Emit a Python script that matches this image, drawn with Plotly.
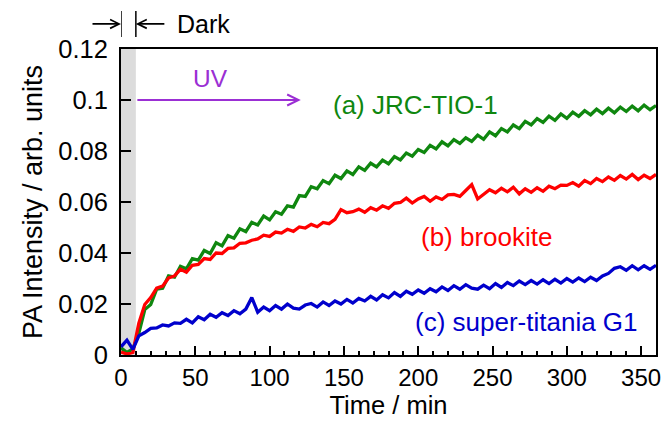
import plotly.graph_objects as go

time_min = [0, 4, 8, 12, 16, 20, 24, 28, 32, 36, 40, 44, 48, 52, 56, 60, 64, 68, 72, 76,
            80, 84, 88, 92, 96, 100, 104, 108, 112, 116, 120, 124, 128, 132, 136, 140, 144, 148, 152, 156,
            160, 164, 168, 172, 176, 180, 184, 188, 192, 196, 200, 204, 208, 212, 216, 220, 224, 228, 232, 236,
            240, 244, 248, 252, 256, 260, 264, 268, 272, 276, 280, 284, 288, 292, 296, 300, 304, 308, 312, 316,
            320, 324, 328, 332, 336, 340, 344, 348, 352, 356, 360]

jrc_tio1 = [0.0028, 0.0010, 0.0024, 0.0085, 0.0178, 0.0198, 0.0258, 0.0262, 0.0310, 0.0305,
            0.0348, 0.0338, 0.0378, 0.0372, 0.0410, 0.0398, 0.0440, 0.0428, 0.0468, 0.0458,
            0.0495, 0.0484, 0.0520, 0.0510, 0.0545, 0.0530, 0.0562, 0.0552, 0.0585, 0.0580,
            0.0625, 0.0622, 0.0660, 0.0652, 0.0684, 0.0672, 0.0705, 0.0692, 0.0722, 0.0708,
            0.0738, 0.0724, 0.0752, 0.0738, 0.0764, 0.0750, 0.0778, 0.0765, 0.0792, 0.0780,
            0.0806, 0.0794, 0.0822, 0.0808, 0.0836, 0.0820, 0.0845, 0.0830, 0.0852, 0.0838,
            0.0862, 0.0846, 0.0875, 0.0860, 0.0888, 0.0875, 0.0902, 0.0888, 0.0916, 0.0902,
            0.0927, 0.0912, 0.0937, 0.0920, 0.0945, 0.0928, 0.0952, 0.0936, 0.0958, 0.0942,
            0.0964, 0.0947, 0.0968, 0.0950, 0.0972, 0.0955, 0.0976, 0.0958, 0.0980, 0.0962,
            0.0978]

brookite = [0.0012, 0.0004, 0.0010, 0.0125, 0.0198, 0.0225, 0.0262, 0.0270, 0.0302, 0.0310,
            0.0336, 0.0325, 0.0352, 0.0355, 0.0378, 0.0375, 0.0400, 0.0398, 0.0418, 0.0420,
            0.0438, 0.0440, 0.0450, 0.0455, 0.0470, 0.0465, 0.0482, 0.0478, 0.0493, 0.0485,
            0.0502, 0.0498, 0.0512, 0.0503, 0.0520, 0.0515, 0.0532, 0.0570, 0.0558, 0.0562,
            0.0572, 0.0560, 0.0578, 0.0568, 0.0585, 0.0575, 0.0595, 0.0598, 0.0615, 0.0596,
            0.0612, 0.0622, 0.0603, 0.0620, 0.0610, 0.0628, 0.0630, 0.0622, 0.0645, 0.0668,
            0.0612, 0.0632, 0.0648, 0.0636, 0.0654, 0.0640, 0.0658, 0.0632, 0.0652, 0.0638,
            0.0656, 0.0642, 0.0662, 0.0652, 0.0666, 0.0665, 0.0676, 0.0662, 0.0684, 0.0672,
            0.0692, 0.0680, 0.0698, 0.0685, 0.0704, 0.0690, 0.0708, 0.0688, 0.0705, 0.0692,
            0.0708]

super_titania_g1 = [0.0032, 0.0058, 0.0022, 0.0075, 0.0088, 0.0104, 0.0106, 0.0118, 0.0114, 0.0126,
                    0.0124, 0.0140, 0.0126, 0.0150, 0.0138, 0.0160, 0.0148, 0.0166, 0.0155, 0.0174,
                    0.0162, 0.0180, 0.0225, 0.0168, 0.0188, 0.0174, 0.0194, 0.0180, 0.0200, 0.0184,
                    0.0180, 0.0196, 0.0202, 0.0188, 0.0208, 0.0194, 0.0212, 0.0200, 0.0218, 0.0204,
                    0.0222, 0.0212, 0.0230, 0.0216, 0.0236, 0.0224, 0.0245, 0.0230, 0.0250, 0.0238,
                    0.0255, 0.0242, 0.0260, 0.0248, 0.0267, 0.0253, 0.0272, 0.0258, 0.0276, 0.0262,
                    0.0258, 0.0274, 0.0260, 0.0280, 0.0265, 0.0284, 0.0272, 0.0290, 0.0276, 0.0292,
                    0.0278, 0.0295, 0.0280, 0.0297, 0.0282, 0.0300, 0.0286, 0.0302, 0.0288, 0.0305,
                    0.0292, 0.0310, 0.0320, 0.0340, 0.0346, 0.0332, 0.0350, 0.0334, 0.0350, 0.0336,
                    0.0352]

series_names = ["(a) JRC-TIO-1", "(b) brookite", "(c) super-titania G1"]
series_colors = ["#0f870f", "#ff0000", "#0000cc"]

x_ticks = [0, 50, 100, 150, 200, 250, 300, 350]
y_ticks = [0, 0.02, 0.04, 0.06, 0.08, 0.1, 0.12]
y_tick_text = ["0", "0.02", "0.04", "0.06", "0.08", "0.1", "0.12"]

dark_end = 10
uv_arrow_end = 121

FONT = "Liberation Sans, Arial, sans-serif"
UV_COLOR = "#9b2fd4"

fig = go.Figure()
for vals, name, col in zip([jrc_tio1, brookite, super_titania_g1], series_names, series_colors):
    fig.add_trace(go.Scatter(x=time_min, y=vals, mode="lines", name=name,
                             line=dict(color=col, width=3.3), showlegend=False))

# dark region shading
fig.add_shape(type="rect", xref="x", yref="paper", x0=0, x1=dark_end, y0=0, y1=1,
              fillcolor="#dcdcdc", line_width=0, layer="below")

# Dark markers above plot
for xv in [0, dark_end]:
    fig.add_shape(type="line", xref="x", yref="paper", x0=xv, x1=xv, y0=1.039, y1=1.124,
                  line=dict(color="black", width=1.5))

fig.add_annotation(x=0, y=1.082, xref="x", yref="paper", ax=-30, ay=0, text="",
                   showarrow=True, arrowhead=5, arrowsize=1.1, arrowwidth=1.6, arrowcolor="black")
fig.add_annotation(x=dark_end, y=1.082, xref="x", yref="paper", ax=30, ay=0, text="",
                   showarrow=True, arrowhead=5, arrowsize=1.1, arrowwidth=1.6, arrowcolor="black")
fig.add_annotation(x=36, y=1.082, xref="x", yref="paper", text="Dark", showarrow=False,
                   xanchor="left", yanchor="middle", font=dict(size=25, color="black", family=FONT))

# UV arrow
fig.add_annotation(x=uv_arrow_end, y=0.1, xref="x", yref="y", ax=dark_end, ay=0.1,
                   axref="x", ayref="y", text="", showarrow=True, arrowhead=5,
                   arrowsize=1.1, arrowwidth=2, arrowcolor=UV_COLOR)
fig.add_annotation(x=60, y=0.1085, xref="x", yref="y", text="UV", showarrow=False,
                   yanchor="middle", font=dict(size=24.5, color=UV_COLOR, family=FONT))

# series labels
label_pos = [(198, 0.098), (246, 0.0463), (273, 0.0129)]
for (lx, ly), name, col in zip(label_pos, series_names, series_colors):
    fig.add_annotation(x=lx, y=ly, xref="x", yref="y", text=name, showarrow=False,
                       yanchor="middle", font=dict(size=26, color=col, family=FONT))

fig.update_layout(
    width=662, height=426,
    margin=dict(l=121, r=6, t=49, b=71),
    plot_bgcolor="white", paper_bgcolor="white",
    font=dict(family=FONT, size=24, color="black"),
)
fig.update_xaxes(range=[0, 360], tickvals=x_ticks, ticks="inside", ticklen=9, tickwidth=1.5,
                 tickcolor="black", showline=True, linecolor="black", linewidth=2, mirror=True,
                 showgrid=False, zeroline=False,
                 minor=dict(dtick=10, ticks="inside", ticklen=4, tickwidth=1.5, tickcolor="black", showgrid=False),
                 tickfont=dict(size=24), automargin=False,
                 title=dict(text="Time / min", font=dict(size=25.5), standoff=4))
fig.update_yaxes(range=[0, 0.12], tickvals=y_ticks, ticktext=y_tick_text, ticks="inside", ticklen=10,
                 tickwidth=1.5, tickcolor="black", showline=True, linecolor="black", linewidth=2,
                 mirror=True, showgrid=False, zeroline=False, tickfont=dict(size=25.5),
                 ticklabelstandoff=6, automargin=False,
                 title=dict(text="PA Intensity / arb. units", font=dict(size=27), standoff=8))

fig.write_html("out.html", config={"displayModeBar": False},
               post_script="document.body.style.margin='0px';")
